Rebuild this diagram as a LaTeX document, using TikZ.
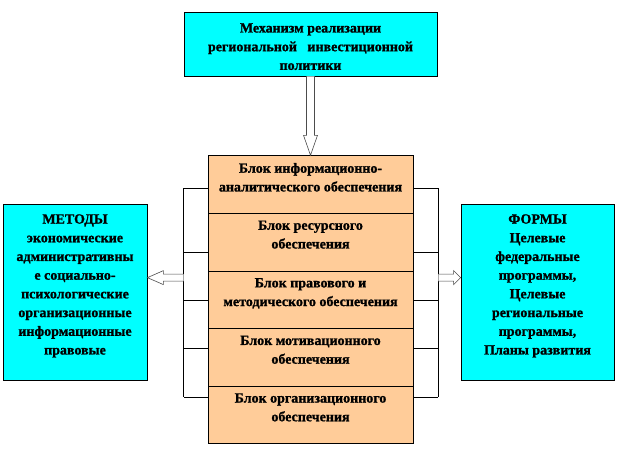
\documentclass[tikz,border=0pt]{standalone}
\usepackage{fontspec}
\setmainfont{Liberation Serif}
\newfontfamily\tnr[FakeBold=1.2]{Liberation Serif Bold}
\usetikzlibrary{calc}
\definecolor{cy}{HTML}{00FFFF}
\definecolor{peach}{HTML}{FFCC99}
\tikzset{
  box/.style={draw=black, line width=0.8pt, inner sep=0pt},
  rowbox/.style={box, fill=peach, minimum width=205pt, minimum height=57.6pt},
  txt/.style={font=\tnr\fontsize{14}{18.7}\selectfont, align=center, inner sep=0pt},
  link/.style={draw=black, line width=0.6pt},
  hollow/.style={draw=black!70, line width=0.6pt, fill=white},
}
\begin{document}
\begin{tikzpicture}[x=1pt,y=-1pt]
\useasboundingbox (0,0) rectangle (618,456);
% top box
\node[box, fill=cy, minimum width=253pt, minimum height=64pt] (top) at (310.5,44) {};
\node[txt, anchor=north] (toptxt) at ($(top.north)+(0,11.5)$) {Механизм реализации\\региональной\ \ \ инвестиционной\\политики};
% rows
\node[rowbox] (r1) at (310.5,184.5) {};
\node[rowbox] (r2) at (310.5,242.1) {};
\node[rowbox] (r3) at (310.5,299.7) {};
\node[rowbox] (r4) at (310.5,357.3) {};
\node[rowbox] (r5) at (310.5,414.9) {};
\node[txt, anchor=north] (t1) at ($(r1.north)+(0,7.5)$) {Блок информационно-\\аналитического обеспечения};
\node[txt, anchor=north] (t2) at ($(r2.north)+(0,7.5)$) {Блок ресурсного\\обеспечения};
\node[txt, anchor=north] (t3) at ($(r3.north)+(0,7.5)$) {Блок правового и\\методического обеспечения};
\node[txt, anchor=north] (t4) at ($(r4.north)+(0,7.5)$) {Блок мотивационного\\обеспечения};
\node[txt, anchor=north] (t5) at ($(r5.north)+(0,7.5)$) {Блок организационного\\обеспечения};
% side boxes
\node[box, fill=cy, minimum width=144pt, minimum height=176pt] (left) at (75,292) {};
\node[txt, anchor=north] (lt) at ($(left.north)+(0,10.5)$) {МЕТОДЫ\\экономические\\административны\\е социально-\\психологические\\организационные\\информационные\\правовые};
\node[box, fill=cy, minimum width=153pt, minimum height=176pt] (right) at (537.5,292) {};
\node[txt, anchor=north] (rt) at ($(right.north)+(0,10.5)$) {ФОРМЫ\\Целевые\\федеральные\\программы,\\Целевые\\региональные\\программы,\\Планы развития};
% brackets
\coordinate (lb1) at ($(r1.west)+(-24,3.5)$);
\coordinate (lb5) at ($(r5.west)+(-24,-18)$);
\coordinate (rb1) at ($(r1.east)+(25,3.5)$);
\coordinate (rb5) at ($(r5.east)+(25,-18)$);
\path[link] (lb1) -- (lb5);
\path[link] (rb1) -- (rb5);
\foreach \r/\dy in {r1/3.5, r2/9.9, r3/0.3, r4/-9.3, r5/-18} {
  \path[link] ($(\r.west)+(0,\dy)$) -- ++(-24,0);
  \path[link] ($(\r.east)+(0,\dy)$) -- ++(25,0);
}
% top arrow
\coordinate (ta) at (top.south);
\coordinate (tb) at (r1.north);
\path[hollow] ($(ta)+(-4,0)$) -- ($(tb)+(-4,-20)$) -- ($(tb)+(-7,-20)$) -- (tb) -- ($(tb)+(7,-20)$) -- ($(tb)+(4,-20)$) -- ($(ta)+(4,0)$);
% left arrow
\coordinate (la) at ($(lb1)!0.429!(lb5)$);
\coordinate (lt2) at (left.east |- la);
\path[hollow] ($(la)+(0,-3.5)$) -- ($(lt2)+(16,-3.5)$) -- ($(lt2)+(16,-7)$) -- (lt2) -- ($(lt2)+(16,7)$) -- ($(lt2)+(16,3.5)$) -- ($(la)+(0,3.5)$);
% right arrow
\coordinate (ra) at ($(rb1)!0.429!(rb5)$);
\coordinate (rt2) at (right.west |- ra);
\path[hollow] ($(ra)+(0,-3.5)$) -- ($(rt2)+(-7,-3.5)$) -- ($(rt2)+(-7,-7)$) -- (rt2) -- ($(rt2)+(-7,7)$) -- ($(rt2)+(-7,3.5)$) -- ($(ra)+(0,3.5)$);
\end{tikzpicture}
\end{document}
